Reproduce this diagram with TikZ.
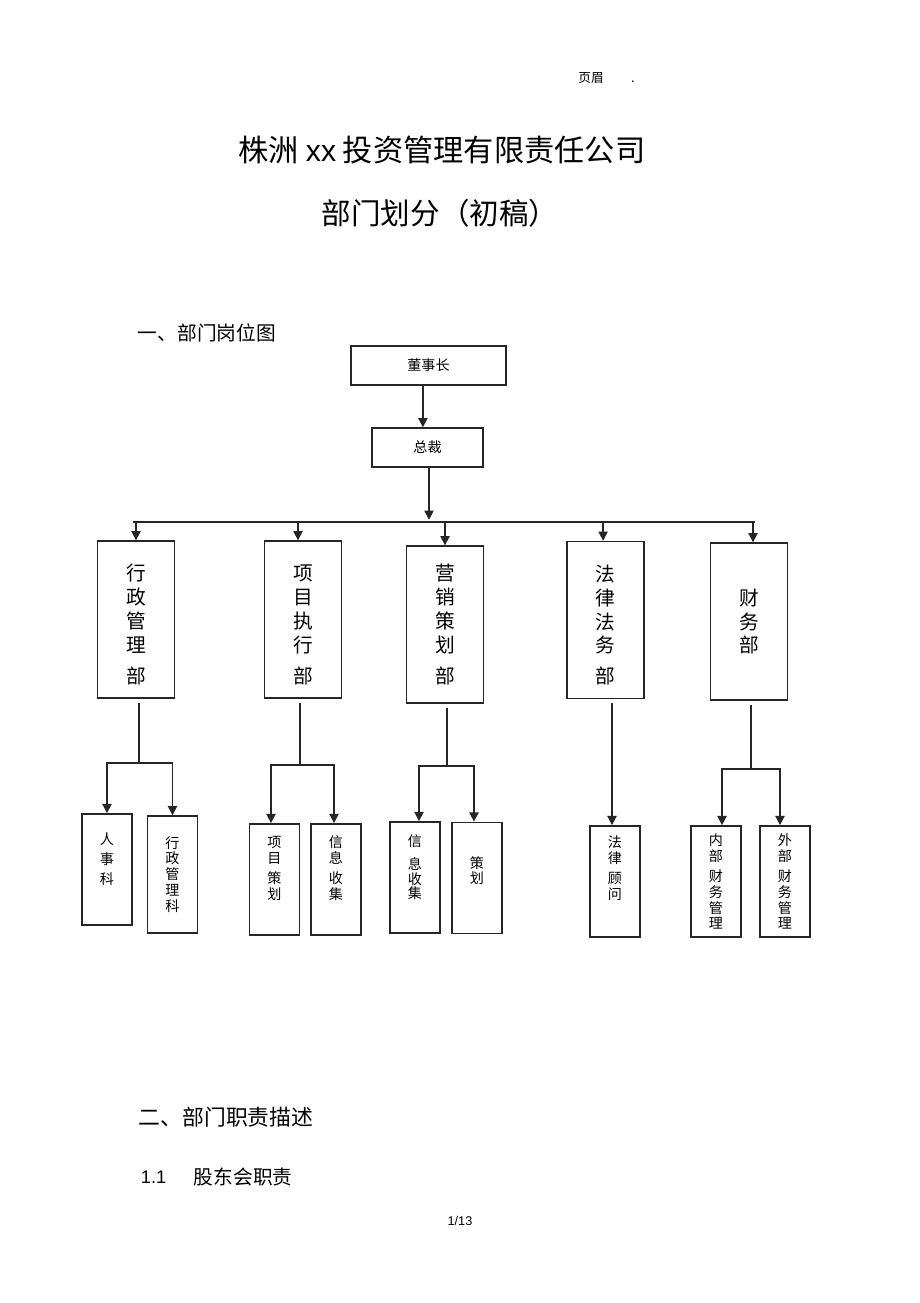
\documentclass[tikz,border=0pt]{standalone}
\usepackage{fontspec}
\setmainfont{Liberation Sans}
\newfontfamily\cjk{Noto Sans CJK SC}
\usetikzlibrary{arrows.meta}

\begin{document}
\begin{tikzpicture}[x=0.025cm,y=-0.025cm,
  every node/.style={font=\cjk},
  conn/.style={draw=black!85,line width=1.1pt},
  arr/.style={conn,-{Triangle[length=6.5pt,width=6.5pt]}},
  topbox/.style={conn,minimum height=0.975cm,font=\cjk\fontsize{10}{12}\selectfont},
  deptbox/.style={conn,minimum width=1.92cm,minimum height=3.92cm,align=center,font=\cjk\fontsize{14}{17}\selectfont},
  secbox/.style={conn,minimum width=1.25cm,minimum height=2.78cm,align=center,font=\cjk\fontsize{10}{11.3}\selectfont}]
\fill[white] (0,0) rectangle (920,1303);
\useasboundingbox (0,0) rectangle (920,1303);
\node[anchor=base] (hdr) at (591,82) {\fontsize{9}{10}\selectfont 页眉};
\node[anchor=base] (hdot) at (633,82) {\fontsize{9}{10}\selectfont .};
\node (title) at (442,150) {\fontsize{21.5}{24}\selectfont 株洲 {\rmfamily xx} 投资管理有限责任公司};
\node (subtitle) at (440,213) {\fontsize{21}{24}\selectfont 部门划分（初稿）};
\node[anchor=west] (sec1) at (133,333) {\fontsize{14}{16}\selectfont 一、部门岗位图};
\node[topbox,minimum width=3.875cm] (ceo) at (428.5,365.5) {董事长};
\node[topbox,minimum width=2.775cm] (pres) at (427.5,447.5) {总裁};
\draw[arr] ([xshift=-0.14cm]ceo.south) -- ([xshift=-0.14cm]ceo.south |- pres.north);
\coordinate (busl) at (133,522);
\coordinate (busr) at (755,522);
\draw[arr] (pres.south -| busr) ++(-326,0) -- ++(0,52);
\draw[conn] (busl) -- (busr);
\node[deptbox] (adm) at (136,619.5) {\rule{0pt}{19pt}行\\政\\管\\理\\[5pt]部};
\node[deptbox] (proj) at (303,619.5) {\rule{0pt}{19pt}项\\目\\执\\行\\[5pt]部};
\node[deptbox] (mkt) at (445,624.5) {营\\销\\策\\划\\[5pt]部};
\node[deptbox] (law) at (605.5,620) {\rule{0pt}{19pt}法\\律\\法\\务\\[5pt]部};
\node[deptbox] (fin) at (749,621.5) {财\\务\\部};
\draw[arr] (adm.north |- busl) -- (adm.north);
\draw[arr] ([xshift=-0.125cm]proj.north |- busl) -- ([xshift=-0.125cm]proj.north);
\draw[arr] (mkt.north |- busl) -- (mkt.north);
\draw[arr] ([xshift=-0.06cm]law.north |- busl) -- ([xshift=-0.06cm]law.north);
\draw[arr] ([xshift=0.1cm]fin.north |- busl) -- ([xshift=0.1cm]fin.north);
\node[secbox] (hr) at (107,869.5) {人\\[3pt]事\\[3pt]科\\[4pt]\mbox{}};
\node[secbox,minimum height=2.92cm] (admsec) at (172.5,874.5) {行\\政\\管\\理\\科};
\node[secbox] (pplan) at (274.5,879.5) {项\\目\\[3pt]策\\划\\[5.7pt]\mbox{}};
\node[secbox] (pinfo) at (336,879.5) {信\\息\\[3pt]收\\集\\[5.7pt]\mbox{}};
\node[secbox] (minfo) at (415,877.5) {信\\[5pt]息\\[-1pt]收\\[-1pt]集\\[4pt]\mbox{}};
\node[secbox] (mplan) at (477,878) {策\\划\\\mbox{}};
\node[secbox] (legal) at (615,881.5) {法\\律\\[3pt]顾\\问\\[8.7pt]\mbox{}};
\node[secbox] (fin1) at (716,881.5) {内\\部\\[3pt]财\\务\\管\\理};
\node[secbox] (fin2) at (785,881.5) {外\\部\\[3pt]财\\务\\管\\理};
\coordinate (j1) at (139,763);
\coordinate (j2) at (300,765);
\coordinate (j3) at (447,766);
\coordinate (j4) at (751,769);
\draw[conn,shorten <=3pt] (adm.south -| j1) -- (j1);
\draw[arr] (j1) -| (hr.north);
\draw[arr] (j1) -| (admsec.north);
\draw[conn,shorten <=3pt] (proj.south -| j2) -- (j2);
\draw[arr] (j2) -| ([xshift=-0.0875cm]pplan.north);
\draw[arr] (j2) -| ([xshift=-0.05cm]pinfo.north);
\draw[conn,shorten <=3pt] (mkt.south -| j3) -- (j3);
\draw[arr] (j3) -| ([xshift=0.1cm]minfo.north);
\draw[arr] (j3) -| ([xshift=-0.075cm]mplan.north);
\draw[arr,shorten <=3pt] ([xshift=-0.075cm]legal.north |- law.south) -- ([xshift=-0.075cm]legal.north);
\draw[conn,shorten <=3pt] (fin.south -| j4) -- (j4);
\draw[arr] (j4) -| ([xshift=0.15cm]fin1.north);
\draw[arr] (j4) -| ([xshift=-0.125cm]fin2.north);
\node[anchor=west] (sec2) at (134,1117) {\fontsize{15.5}{18}\selectfont 二、部门职责描述};
\node[anchor=west] (num11) at (136,1177) {\rmfamily\fontsize{13}{16}\selectfont 1.1};
\node[anchor=west] (sub11) at (189,1177) {\fontsize{14}{16}\selectfont 股东会职责};
\node (pageno) at (460,1221) {\rmfamily\fontsize{9}{10}\selectfont 1/13};
\end{tikzpicture}
\end{document}
